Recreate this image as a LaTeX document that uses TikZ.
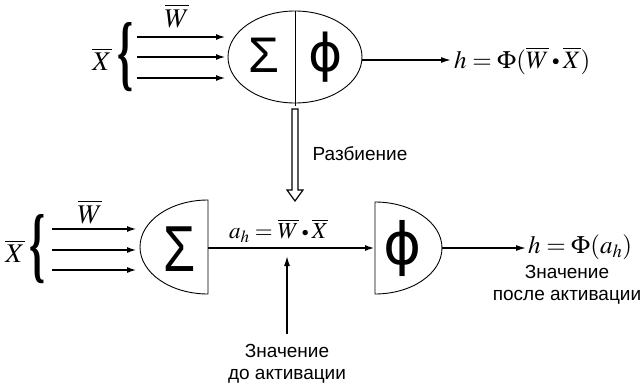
\documentclass[tikz,border=0pt]{standalone}
\usepackage{mathptmx}
\usepackage[no-math]{fontspec}
\setmainfont{Liberation Sans}
\newfontfamily\seriffont{Liberation Serif}
\newfontfamily\glyphfont{Liberation Sans}
\newfontfamily\phifont{DejaVu Sans}
\usepackage{graphicx}
\usetikzlibrary{arrows.meta}
\newcommand{\mydot}{\mathbin{\vcenter{\hbox{\scalebox{0.6}{$\bullet$}}}}}
\tikzset{
  inarrow/.style={line width=2.2pt,-{Latex[length=10pt,width=6pt]}},
  outarrow/.style={line width=1.4pt,-{Latex[length=10pt,width=6pt]}},
  shapeline/.style={line width=0.9pt},
  lbl/.style={font=\fontsize{19}{22}\selectfont, align=center, inner sep=0pt},
  mathlbl/.style={font=\fontsize{25}{29}\selectfont, inner sep=0pt},
  varlbl/.style={font=\fontsize{27}{31}\selectfont, inner sep=0pt},
  bigglyph/.style={inner sep=0pt},
  bracenode/.style={inner sep=0pt}
}
\begin{document}
\begin{tikzpicture}[x=1pt,y=-1pt]
\useasboundingbox (0,0) rectangle (643,391);
% ---------- top neuron ----------
\coordinate (tc) at (295,57);
\draw[shapeline] (tc) ellipse [x radius=67, y radius=46];
\coordinate (tdtop) at (295,11);
\coordinate (tdbot) at (295,106);
\draw[shapeline] (tdtop) -- (tdbot);
\node[bigglyph] (tsig) at (264,55) {\glyphfont\fontsize{50}{50}\selectfont Σ};
\node[bigglyph] (tphi) at (326,57) {\phifont\fontsize{52}{52}\selectfont ϕ};
% inputs
\coordinate (ti1s) at (137,37); \coordinate (ti1e) at (226,37);
\coordinate (ti2s) at (137,57); \coordinate (ti2e) at (226,57);
\coordinate (ti3s) at (137,78); \coordinate (ti3e) at (226,78);
\draw[inarrow] (ti1s) -- (ti1e);
\draw[inarrow] (ti2s) -- (ti2e);
\draw[inarrow] (ti3s) -- (ti3e);
\node[bracenode] (tbr) at (125,57) {\resizebox{16pt}{58pt}{\seriffont\bfseries\fontsize{48}{48}\selectfont\{}};
\node[varlbl] (tx) at (102,59) {$\overline{X}$};
\node[varlbl] (tw) at (177,16) {$\overline{W}$};
% output
\coordinate (tos) at (362,60);
\coordinate (toe) at (451,60);
\draw[outarrow] (tos) -- (toe);
\node[mathlbl, anchor=west] (tout) at (454,61) {$h=\Phi(\overline{W}\mydot\overline{X})$};
% ---------- split arrow ----------
\coordinate (sa1) at (292,109);
\coordinate (sa2) at (298,109);
\coordinate (sa3) at (298,190);
\coordinate (sa4) at (303,190);
\coordinate (sa5) at (295,201);
\coordinate (sa6) at (287,190);
\coordinate (sa7) at (292,190);
\draw[line width=1.2pt, line join=miter] (sa1) -- (sa2) -- (sa3) -- (sa4) -- (sa5) -- (sa6) -- (sa7) -- cycle;
\node[lbl] (razb) at (360,154) {Разбиение};
% ---------- bottom: sum half ----------
\draw[shapeline] (208,294) arc[start angle=90, end angle=270, x radius=68, y radius=47] -- cycle;
\node[bigglyph] (bsig) at (180,249) {\glyphfont\fontsize{52}{52}\selectfont\scalebox{1}[1.25]{Σ}};
\coordinate (bi1s) at (52,229); \coordinate (bi1e) at (137,229);
\coordinate (bi2s) at (52,250); \coordinate (bi2e) at (137,250);
\coordinate (bi3s) at (52,270); \coordinate (bi3e) at (137,270);
\draw[inarrow] (bi1s) -- (bi1e);
\draw[inarrow] (bi2s) -- (bi2e);
\draw[inarrow] (bi3s) -- (bi3e);
\node[bracenode] (bbr) at (38,249) {\resizebox{16pt}{58pt}{\seriffont\bfseries\fontsize{48}{48}\selectfont\{}};
\node[varlbl] (bx) at (15,251) {$\overline{X}$};
\node[varlbl] (bw) at (90,212) {$\overline{W}$};
% connector sum -> activation
\coordinate (bsr) at (208,248);
\coordinate (bpl) at (375,248);
\draw[inarrow] (bsr) -- (bpl);
\node[mathlbl, font=\fontsize{23}{27}\selectfont, anchor=west] (ah) at (229,231) {$a_h=\overline{W}\mydot\overline{X}$};
% ---------- bottom: activation half ----------
\draw[shapeline] (375,202) arc[start angle=-90, end angle=90, x radius=67, y radius=46] -- cycle;
\node[bigglyph] (bphi) at (403,248) {\phifont\fontsize{58}{58}\selectfont ϕ};
\coordinate (bos) at (442,248);
\coordinate (boe) at (526,248);
\draw[outarrow] (bos) -- (boe);
\node[mathlbl, anchor=west] (bout) at (528,247) {$h=\Phi(a_h)$};
\node[lbl] (after) at (567,285) {Значение\\после активации};
% ---------- before-activation pointer ----------
\coordinate (ups) at (287,334);
\coordinate (upe) at (287,256);
\draw[outarrow] (ups) -- (upe);
\node[lbl] (before) at (287,364) {Значение\\до активации};
\end{tikzpicture}
\end{document}
